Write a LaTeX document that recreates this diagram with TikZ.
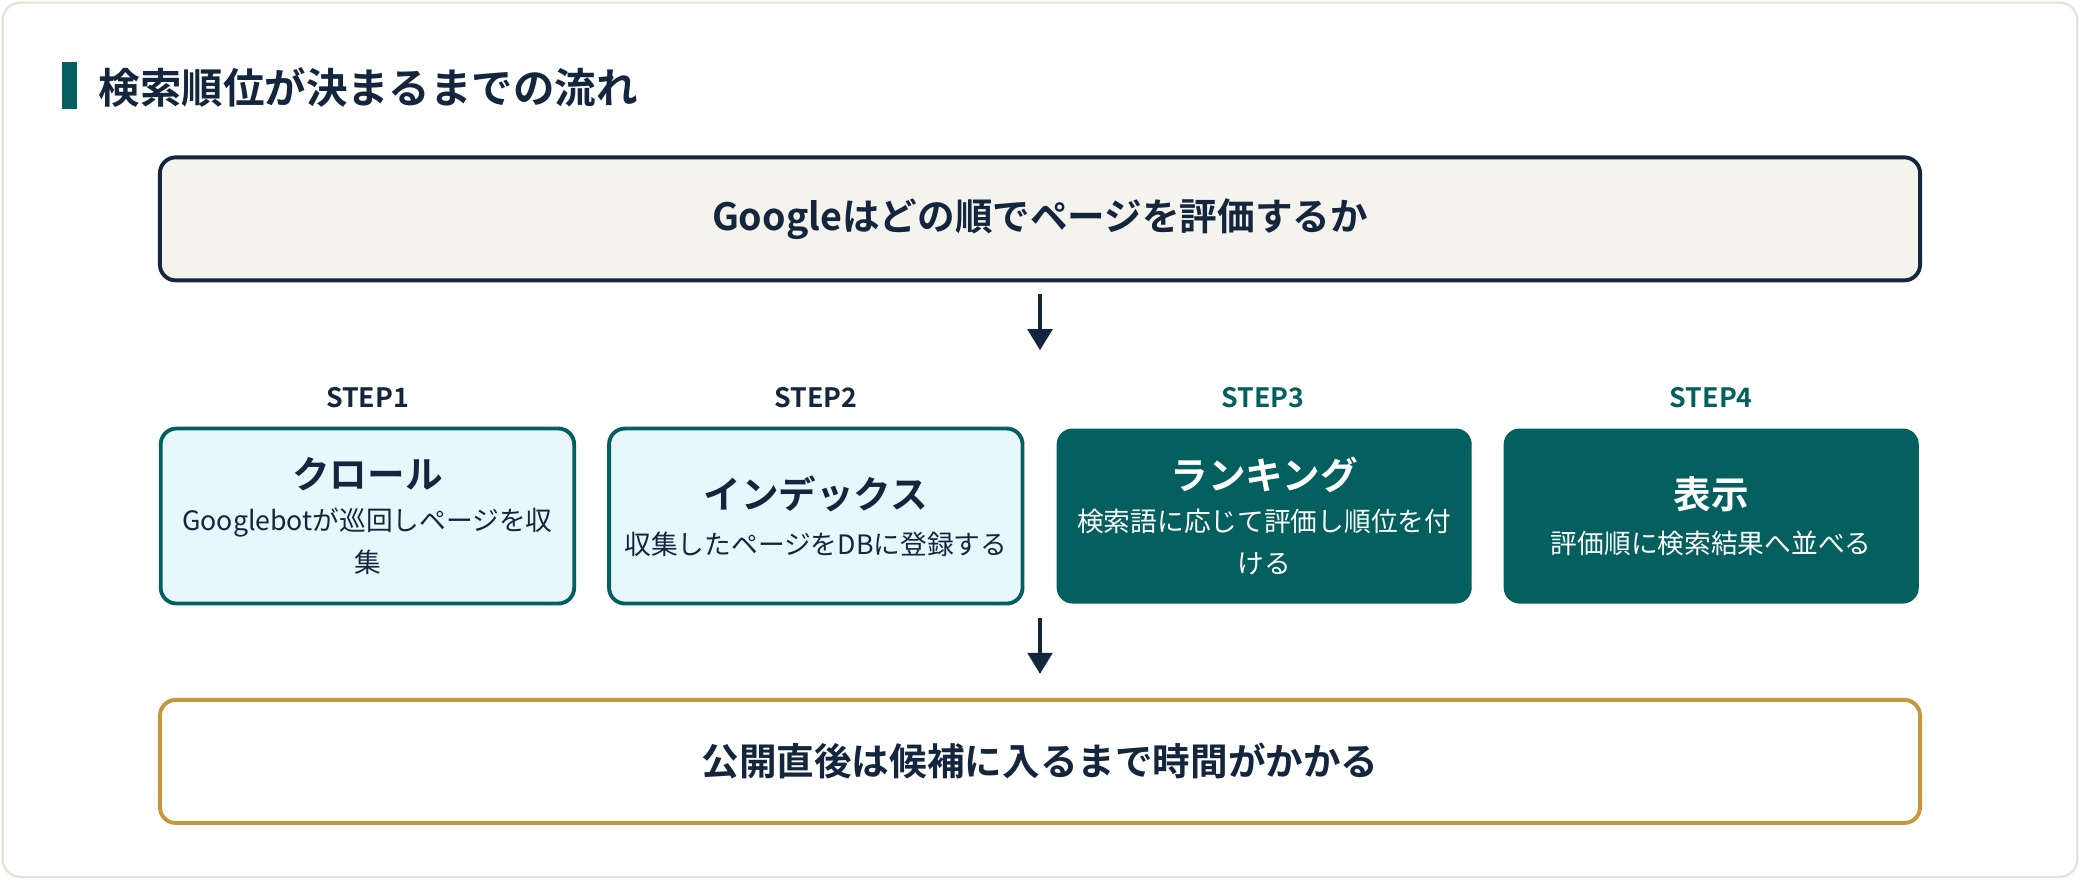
\documentclass[tikz,border=0pt]{standalone}
\usepackage{fontspec}
\setmainfont{Noto Sans CJK JP}[BoldFont={* Bold}]
\usetikzlibrary{positioning,arrows.meta}
\definecolor{navy}{HTML}{14263D}
\definecolor{teal}{HTML}{045F5F}
\definecolor{pale}{HTML}{E8F7FB}
\definecolor{cream}{HTML}{F5F3EE}
\definecolor{gold}{HTML}{C8963A}
\definecolor{frame}{HTML}{E4E2D2}
\tikzset{
  bigbox/.style={draw=navy,line width=1.1pt,rounded corners=4.5pt,minimum width=176mm,minimum height=12.3mm,font=\bfseries\fontsize{10.7}{12}\selectfont,text=navy},
  steplabel/.style={font=\bfseries\fontsize{7.6}{9}\selectfont},
  lightbox/.style={draw=teal,line width=1.1pt,fill=pale,text=navy,rounded corners=4.5pt,minimum width=41.2mm,minimum height=17.5mm,align=center,text width=39mm},
  darkbox/.style={fill=teal,text=white,rounded corners=4.5pt,minimum width=41.5mm,minimum height=17.5mm,align=center,text width=39mm},
  flow/.style={-{Triangle[length=6pt,width=7pt]},line width=1.1pt,draw=navy}
}
\newcommand{\boxtext}[2]{{\bfseries\fontsize{10.7}{13}\selectfont #1}\\[1pt]{\fontsize{7.6}{11}\selectfont #2}}
\begin{document}
\begin{tikzpicture}[x=0.13265mm,y=-0.13265mm]
\draw[frame,fill=white,line width=0.6pt,rounded corners=5pt] (2,2) rectangle (1566,661);
\useasboundingbox (0,0) rectangle (1568,663);
\fill[teal] (47,47) rectangle (58,82);
\node[anchor=west,text=navy,font=\bfseries\fontsize{11.8}{14}\selectfont] (title) at (65,66) {検索順位が決まるまでの流れ};

\node[bigbox,fill=cream] (top) at (784,165) {Googleはどの順でページを評価するか};

\node[steplabel,text=navy] (s1) at (277,300) {STEP1};
\node[steplabel,text=navy] (s2) at (615,300) {STEP2};
\node[steplabel,text=teal] (s3) at (952,300) {STEP3};
\node[steplabel,text=teal] (s4) at (1290,300) {STEP4};

\node[lightbox] (crawl) at (277,389) {\boxtext{クロール}{Googlebotが巡回しページを収\\集}};
\node[lightbox] (index) at (615,389) {\boxtext{インデックス}{収集したページをDBに登録する}};
\node[darkbox] (rank) at (953,389) {\boxtext{ランキング}{検索語に応じて評価し順位を付\\ける}};
\node[darkbox] (show) at (1290,389) {\boxtext{表示}{評価順に検索結果へ並べる}};

\node[bigbox,draw=gold,fill=white] (bottom) at (784,574) {公開直後は候補に入るまで時間がかかる};

\coordinate (a1) at (784,222);
\coordinate (a2) at (784,264);
\coordinate (b1) at (784,466);
\coordinate (b2) at (784,508);
\draw[flow] (a1) -- (a2);
\draw[flow] (b1) -- (b2);
\end{tikzpicture}
\end{document}
